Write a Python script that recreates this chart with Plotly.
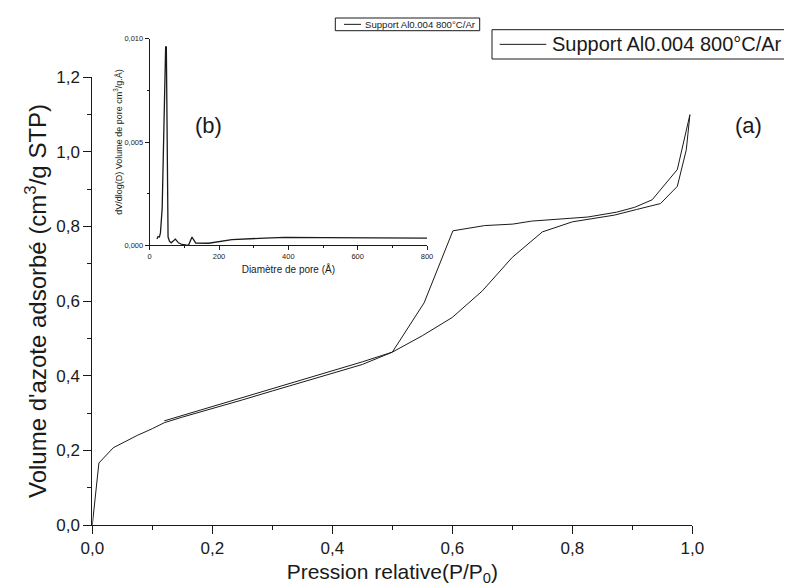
import plotly.graph_objects as go

# ---- main isotherm (adsorption then desorption, one continuous series) ----
p_rel = [0.0, 0.011, 0.035, 0.075, 0.10, 0.12, 0.15, 0.20, 0.25, 0.30, 0.35, 0.40,
         0.45, 0.50, 0.55, 0.60, 0.65, 0.70, 0.75, 0.80, 0.87, 0.907, 0.947, 0.975,
         0.99, 0.996,
         0.975, 0.933, 0.904, 0.874, 0.826, 0.732, 0.701, 0.654, 0.601, 0.553, 0.50,
         0.45, 0.40, 0.35, 0.30, 0.25, 0.20, 0.15, 0.12]
vol_ads = [0.0, 0.166, 0.207, 0.240, 0.258, 0.274, 0.289, 0.311, 0.335, 0.359, 0.382, 0.406,
           0.430, 0.463, 0.507, 0.556, 0.627, 0.717, 0.785, 0.812, 0.830, 0.845, 0.861, 0.907,
           1.005, 1.099,
           0.952, 0.871, 0.851, 0.838, 0.825, 0.814, 0.806, 0.802, 0.788, 0.595, 0.463,
           0.437, 0.413, 0.389, 0.366, 0.342, 0.318, 0.295, 0.279]

# ---- inset pore size distribution ----
diam = [21, 24, 28, 31, 36, 40, 44, 46, 48, 50, 53, 57, 62, 74, 83, 93, 112, 122, 133,
        170, 237, 332, 390, 500, 650, 800]
dvdlogd = [0.0003, 0.00042, 0.0004, 0.0006, 0.0018, 0.0045, 0.0085, 0.0096, 0.0096, 0.005,
           0.0004, 0.0002, 0.00012, 0.0003, 0.00012, 0.00004, 0.0, 0.0004, 0.00011,
           0.0001, 0.00027, 0.00035, 0.00038, 0.00037, 0.00036, 0.00035]

series_name = "Support Al0.004 800°C/Ar"
y_ticks = [0.0, 0.2, 0.4, 0.6, 0.8, 1.0, 1.2]
x_ticks = [0.0, 0.2, 0.4, 0.6, 0.8, 1.0]
inset_x_ticks = [0, 200, 400, 600, 800]
inset_y_ticks = [0.0, 0.005, 0.010]

W, H = 792, 585
FONT = "Liberation Sans, Arial, sans-serif"
INK = "#1a1a1a"

def px_x(v):
    return v / W

def px_y(v):
    return 1 - v / H

fig = go.Figure()
fig.add_trace(go.Scatter(x=p_rel, y=vol_ads, mode="lines", name=series_name,
                         line=dict(color=INK, width=1), showlegend=False,
                         xaxis="x", yaxis="y"))
fig.add_trace(go.Scatter(x=diam, y=dvdlogd, mode="lines", name=series_name,
                         line=dict(color=INK, width=1.3), showlegend=False,
                         xaxis="x2", yaxis="y2"))

axis_common = dict(showgrid=False, zeroline=False, showline=True, linecolor=INK,
                   linewidth=1, ticks="outside", tickcolor=INK, automargin=False,
                   mirror=False)


def legend_box(x0, x1, y0, y1, lx0, lx1, tx, size):
    """Origin-style legend frame: box, line sample and label (paper coords)."""
    yc = (y0 + y1) / 2
    shapes = [
        dict(type="rect", xref="paper", yref="paper",
             x0=px_x(x0), x1=px_x(x1), y0=px_y(y1), y1=px_y(y0),
             line=dict(color=INK, width=1), fillcolor="white", layer="above"),
        dict(type="line", xref="paper", yref="paper",
             x0=px_x(lx0), x1=px_x(lx1), y0=px_y(yc), y1=px_y(yc),
             line=dict(color=INK, width=1), layer="above"),
    ]
    ann = dict(text=series_name, x=px_x(tx), y=px_y(yc), xref="paper", yref="paper",
               xanchor="left", yanchor="middle", showarrow=False, borderpad=0,
               font=dict(size=size, family=FONT, color=INK))
    return shapes, ann


main_shapes, main_ann = legend_box(484, 790, 21.7, 51, 491.7, 538.3, 543, 20)
ins_shapes, ins_ann = legend_box(327.3, 471.7, 10, 22.7, 336, 353, 355.5, 9.6)

fig.update_layout(
    width=W, height=H,
    showlegend=False,
    margin=dict(l=0, r=0, t=0, b=0),
    paper_bgcolor="white", plot_bgcolor="rgba(0,0,0,0)",
    separators=", ",
    font=dict(family=FONT, color=INK),
    xaxis=dict(axis_common, domain=[px_x(84.3), px_x(684.3)], range=[0, 1.0],
               tickvals=x_ticks, tickformat=".1f", ticklen=8,
               tickfont=dict(size=17, family=FONT, color=INK),
               minor=dict(dtick=0.1, ticklen=4, ticks="outside", tickcolor=INK),
               title=dict(text="Pression relative(P/P<sub>0</sub>)",
                          font=dict(size=21, family=FONT, color=INK), standoff=6),
               anchor="y"),
    yaxis=dict(axis_common, domain=[px_y(517), px_y(69)], range=[0, 1.2],
               tickvals=y_ticks, tickformat=".1f", ticklen=8,
               tickfont=dict(size=17, family=FONT, color=INK),
               minor=dict(dtick=0.1, ticklen=4, ticks="outside", tickcolor=INK),
               title=dict(text="Volume d'azote adsorbé (cm<sup>3</sup>/g STP)",
                          font=dict(size=24, family=FONT, color=INK), standoff=2),
               anchor="x"),
    xaxis2=dict(axis_common, domain=[px_x(141.7), px_x(419)], range=[0, 800],
                tickvals=inset_x_ticks, tickformat="d", ticklen=4,
                tickfont=dict(size=7.5, family=FONT, color=INK),
                minor=dict(dtick=100, ticklen=2, ticks="outside", tickcolor=INK),
                title=dict(text="Diamètre de pore (Å)",
                           font=dict(size=10, family=FONT, color=INK), standoff=5),
                anchor="y2"),
    yaxis2=dict(axis_common, domain=[px_y(237.3), px_y(30.7)], range=[0, 0.010],
                tickvals=inset_y_ticks, tickformat=".3f", ticklen=4,
                tickfont=dict(size=7.5, family=FONT, color=INK),
                minor=dict(dtick=0.0025, ticklen=2, ticks="outside", tickcolor=INK),
                title=dict(text="dV/dlog(D) Volume de pore cm<sup>3</sup>/g.Å)",
                           font=dict(size=9, family=FONT, color=INK), standoff=0),
                anchor="x2"),
    shapes=main_shapes + ins_shapes,
    annotations=[
        main_ann, ins_ann,
        dict(text="(a)", x=px_x(740), y=px_y(118), xref="paper", yref="paper",
             xanchor="center", yanchor="middle",
             showarrow=False, font=dict(size=22, family=FONT, color=INK)),
        dict(text="(b)", x=px_x(200), y=px_y(118), xref="paper", yref="paper",
             xanchor="center", yanchor="middle",
             showarrow=False, font=dict(size=22, family=FONT, color=INK)),
    ],
)

fig.write_html("out.html")
